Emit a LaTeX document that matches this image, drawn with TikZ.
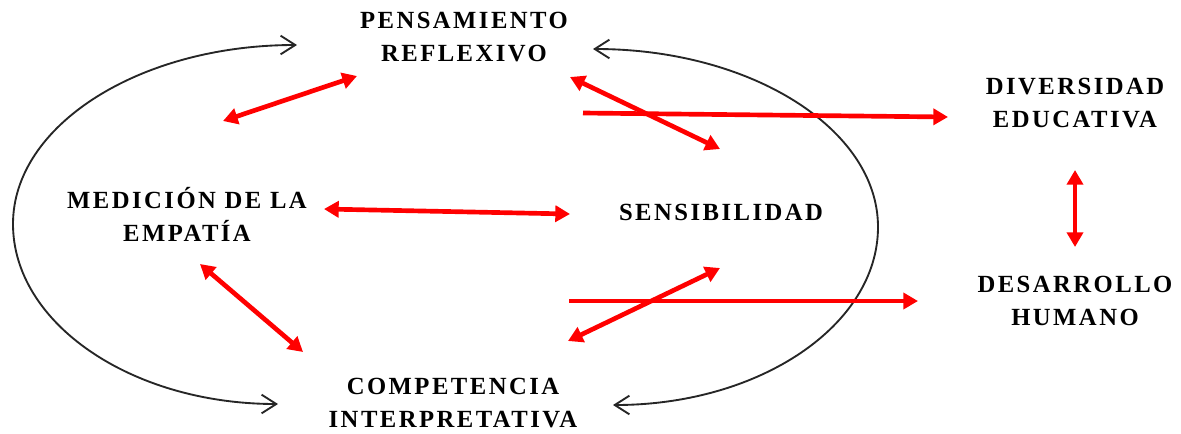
\documentclass[tikz,border=0pt]{standalone}
\usepackage{fontspec}
\setmainfont{Liberation Serif}
\usetikzlibrary{arrows.meta}
\tikzset{
  lbl/.style={align=center, inner sep=0pt,
    font=\fontsize{18.5}{24.75}\selectfont\bfseries\addfontfeature{LetterSpace=10}},
  rarrow/.style={draw=red, line width=3.5pt,
    {Triangle[length=11pt,width=12pt]}-{Triangle[length=11pt,width=12pt]}},
  rsingle/.style={draw=red, line width=3.5pt, -{Triangle[length=11pt,width=12pt]}},
  barc/.style={draw=black!85, line width=1.4pt,
    {Straight Barb[length=11pt,width=14pt]}-{Straight Barb[length=11pt,width=14pt]}}
}
\begin{document}
\begin{tikzpicture}[x=0.75pt,y=-0.75pt]
\useasboundingbox (0,0) rectangle (1181,433);
% labels
\node[lbl] (pens) at (464,37.5) {PENSAMIENTO\\REFLEXIVO};
\node[lbl] (dive) at (1075,103.5) {DIVERSIDAD\\EDUCATIVA};
\node[lbl] (medi) at (187,214) {MEDICIÓN DE LA\\EMPATÍA};
\node[lbl] (sens) at (721,212) {SENSIBILIDAD};
\node[lbl] (desa) at (1075,301) {DESARROLLO\\HUMANO};
\node[lbl] (comp) at (453,403.5) {COMPETENCIA\\INTERPRETATIVA};
% arrow end points
\coordinate (a1s) at (223,121); \coordinate (a1e) at (357,76);
\coordinate (a2s) at (570,77);  \coordinate (a2e) at (720,149);
\coordinate (a3s) at (583,113); \coordinate (a3e) at (948,117);
\coordinate (a4s) at (324,209); \coordinate (a4e) at (570,214);
\coordinate (a5s) at (1075,170); \coordinate (a5e) at (1075,247);
\coordinate (a6s) at (569,301); \coordinate (a6e) at (918,301);
\coordinate (a7s) at (568,341); \coordinate (a7e) at (720,268);
\coordinate (a8s) at (200,264); \coordinate (a8e) at (303,352);
\coordinate (l1) at (297,45); \coordinate (l2) at (13,224); \coordinate (l3) at (278,404);
\coordinate (q1) at (593,49); \coordinate (q2) at (878,227); \coordinate (q3) at (613,405);
% black arcs
\draw[barc] (l1) .. controls (140,45) and (13,125) .. (l2)
                 .. controls (13,323) and (131,404) .. (l3);
\draw[barc] (q1) .. controls (751,49) and (878,129) .. (q2)
                 .. controls (878,325) and (760,405) .. (q3);
% red arrows
\draw[rarrow] (a1s) -- (a1e);
\draw[rarrow] (a2s) -- (a2e);
\draw[rsingle] (a3s) -- (a3e);
\draw[rarrow] (a4s) -- (a4e);
\draw[rarrow] (a5s) -- (a5e);
\draw[rsingle] (a6s) -- (a6e);
\draw[rarrow] (a7s) -- (a7e);
\draw[rarrow] (a8s) -- (a8e);
\end{tikzpicture}
\end{document}
